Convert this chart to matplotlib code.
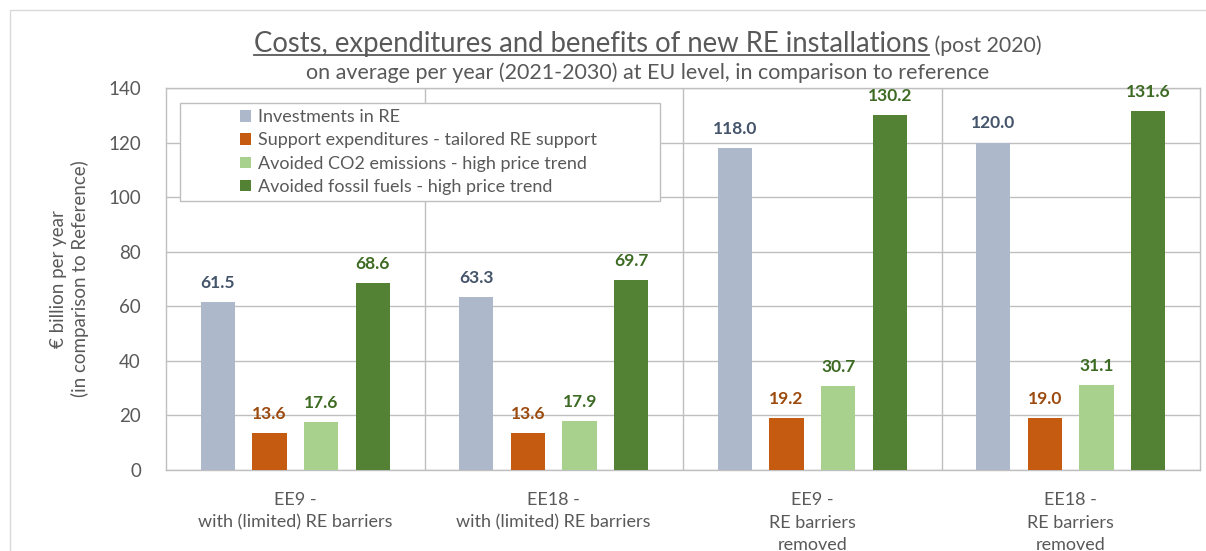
import numpy as np
import matplotlib
matplotlib.use("Agg")
import matplotlib.pyplot as plt
from matplotlib.patches import Rectangle
from matplotlib.lines import Line2D

plt.rcParams['font.family'] = ['Lato', 'DejaVu Sans']

# Data
categories = ["EE9 -\nwith (limited) RE barriers", "EE18 -\nwith (limited) RE barriers",
              "EE9 -\nRE barriers\nremoved", "EE18 -\nRE barriers\nremoved"]
series_names = ["Investments in RE", "Support expenditures - tailored RE support",
                "Avoided CO2 emissions - high price trend", "Avoided fossil fuels - high price trend"]
investments = [61.5, 63.3, 118.0, 120.0]
support = [13.6, 13.6, 19.2, 19.0]
avoided_co2 = [17.6, 17.9, 30.7, 31.1]
avoided_fossil = [68.6, 69.7, 130.2, 131.6]

bar_colors = ["#adb9ca", "#c55a11", "#a9d18e", "#548235"]
label_colors = ["#44546a", "#9c4a0e", "#3d6b23", "#3d6b23"]
grey_text = "#595959"
grid_col = "#bfbfbf"

fig = plt.figure(figsize=(12.06, 5.51), dpi=100)
ax = fig.add_axes([166 / 1206, 1 - 470 / 551, 1034 / 1206, 382 / 551])

x = np.arange(len(categories))
offsets = [-0.3, -0.1, 0.1, 0.3]
all_series = [investments, support, avoided_co2, avoided_fossil]
handles = []
for vals, off, col, lcol, name in zip(all_series, offsets, bar_colors, label_colors, series_names):
    bars = ax.bar(x + off, vals, width=0.133, color=col, zorder=3, label=name)
    handles.append(bars)
    for xi, v in zip(x + off, vals):
        ax.annotate(f"{v:.1f}", (xi, v), xytext=(0, 8), textcoords="offset points",
                    ha="center", va="bottom", fontsize=12.5, fontweight="bold", color=lcol, zorder=4)

ax.set_xlim(-0.5, 3.5)
ax.set_ylim(0, 140)
ax.set_yticks(np.arange(0, 141, 20))
ax.set_xticks(x)
ax.set_xticklabels(categories, fontsize=13, color=grey_text, linespacing=1.5)
ax.tick_params(axis="x", length=0, pad=16)
ax.tick_params(axis="y", length=0, pad=18, labelsize=13.5, labelcolor=grey_text)

ax.grid(axis="y", color=grid_col, lw=1, zorder=0)
for b in [0.5, 1.5, 2.5]:
    ax.axvline(b, color=grid_col, lw=1, zorder=0)
for s in ax.spines.values():
    s.set_color(grid_col)
    s.set_linewidth(1)

ax.set_ylabel("€ billion per year\n(in comparison to Reference)", fontsize=13.5, color=grey_text,
              labelpad=14, linespacing=1.25)

# Legend with its own box (Excel style, text indented)
box = Rectangle((180 / 1206, 1 - 201 / 551), 480 / 1206, 98 / 551, transform=fig.transFigure,
                facecolor="white", edgecolor=grid_col, lw=1, zorder=5, clip_on=False)
ax.add_patch(box)
leg = ax.legend(handles=handles, loc="upper left", bbox_to_anchor=(233 / 1206, 1 - 102 / 551),
                bbox_transform=fig.transFigure, frameon=False, fontsize=13, labelcolor=grey_text,
                handlelength=0.6, handleheight=0.6, handletextpad=0.4, labelspacing=0.4,
                borderaxespad=0)
leg.set_zorder(6)

# Figure border
fig.add_artist(Rectangle((10 / 1206, -0.05), 1.1, 1 - 10 / 551 + 0.05, transform=fig.transFigure,
                         facecolor="none", edgecolor="#d9d9d9", lw=1))

# Title with underline and a smaller suffix
fig.canvas.draw()
renderer = fig.canvas.get_renderer()
t1 = fig.text(0, 1 - 52 / 551, "Costs, expenditures and benefits of new RE installations",
              fontsize=19.8, color=grey_text, va="baseline", ha="left")
t2 = fig.text(0, 1 - 52 / 551, " (post 2020)", fontsize=15.3, color=grey_text, va="baseline", ha="left")
w1 = t1.get_window_extent(renderer).width
w2 = t2.get_window_extent(renderer).width
x0 = 648 - (w1 + w2) / 2
t1.set_x(x0 / 1206)
t2.set_x((x0 + w1) / 1206)
fig.add_artist(Line2D([x0 / 1206, (x0 + w1) / 1206], [1 - 55 / 551, 1 - 55 / 551],
                      transform=fig.transFigure, color=grey_text, lw=1.3))
fig.text(648 / 1206, 1 - 73 / 551, "on average per year (2021-2030) at EU level, in comparison to reference",
         fontsize=15.5, color=grey_text, ha="center", va="center")

fig.savefig("out.png", dpi=100, facecolor="white")
